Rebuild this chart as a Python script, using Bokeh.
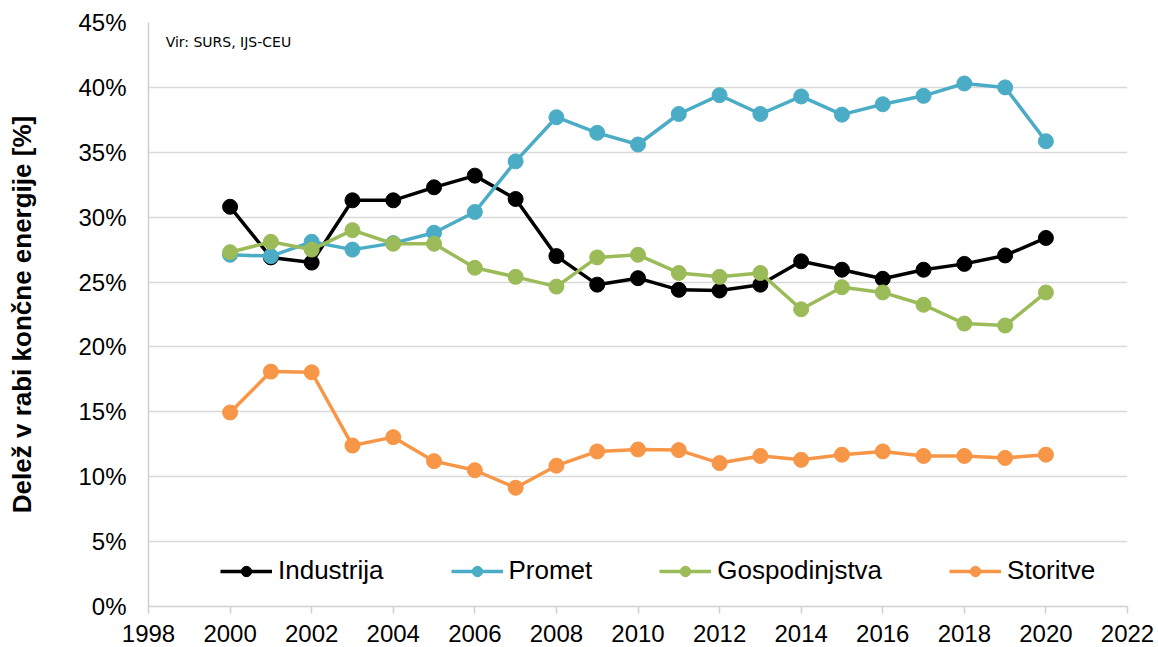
from bokeh.plotting import figure
from bokeh.models import Range1d, FixedTicker, PrintfTickFormatter, Legend, LegendItem, Label
from bokeh.embed import file_html
from bokeh.resources import INLINE

years = list(range(2000, 2021))
industrija = [30.8, 26.9, 26.5, 31.3, 31.3, 32.3, 33.2, 31.4, 27.0, 24.8, 25.3,
              24.4, 24.35, 24.8, 26.6, 25.95, 25.25, 25.95, 26.4, 27.05, 28.4]
promet = [27.1, 27.0, 28.1, 27.5, 28.0, 28.8, 30.4, 34.3, 37.7, 36.5, 35.6,
          37.95, 39.4, 37.95, 39.3, 37.9, 38.7, 39.35, 40.3, 40.0, 35.85]
gospodinjstva = [27.3, 28.1, 27.5, 29.0, 27.95, 27.95, 26.1, 25.4, 24.65, 26.9, 27.1,
                 25.7, 25.4, 25.7, 22.9, 24.6, 24.2, 23.25, 21.8, 21.65, 24.2]
storitve = [14.95, 18.1, 18.05, 12.4, 13.05, 11.2, 10.5, 9.15, 10.85, 11.95, 12.1,
            12.05, 11.05, 11.6, 11.3, 11.7, 11.95, 11.6, 11.6, 11.45, 11.7]

series_names = ["Industrija", "Promet", "Gospodinjstva", "Storitve"]
series_values = [industrija, promet, gospodinjstva, storitve]
colors = ["#000000", "#4BACC6", "#9BBB59", "#F79646"]

x_ticks = list(range(1998, 2023, 2))
y_ticks = list(range(0, 46, 5))

FONT = "Liberation Sans"

p = figure(width=1158, height=647, output_backend="svg", toolbar_location=None,
           x_range=Range1d(1998, 2022), y_range=Range1d(0, 45),
           min_border_left=148, min_border_right=31, min_border_top=22, min_border_bottom=41)
p.outline_line_color = None
p.background_fill_color = "white"
p.border_fill_color = "white"

# axes
p.xaxis.ticker = FixedTicker(ticks=x_ticks)
p.xaxis.major_label_text_font = FONT
p.xaxis.major_label_text_font_size = "24px"
p.xaxis.major_label_text_color = "#000000"
p.xaxis.axis_line_color = "#d0d0d0"
p.xaxis.axis_line_width = 1.5
p.xaxis.major_tick_line_color = "#d0d0d0"
p.xaxis.major_tick_line_width = 1.5
p.xaxis.major_tick_in = 0
p.xaxis.major_tick_out = 7
p.xaxis.minor_tick_line_color = None
p.xaxis.major_label_standoff = 11

p.yaxis.ticker = FixedTicker(ticks=y_ticks)
p.yaxis.formatter = PrintfTickFormatter(format="%d%%")
p.yaxis.major_label_text_font = FONT
p.yaxis.major_label_text_font_size = "24px"
p.yaxis.major_label_text_color = "#000000"
p.yaxis.axis_line_color = "#d0d0d0"
p.yaxis.axis_line_width = 1.5
p.yaxis.major_tick_line_color = None
p.yaxis.minor_tick_line_color = None
p.yaxis.major_tick_in = 0
p.yaxis.major_tick_out = 0
p.yaxis.major_label_standoff = 22
p.yaxis.axis_label = "Delež v rabi končne energije [%]"
p.yaxis.axis_label_text_font = FONT
p.yaxis.axis_label_text_font_size = "26px"
p.yaxis.axis_label_text_font_style = "bold"
p.yaxis.axis_label_text_color = "#000000"
p.yaxis.axis_label_standoff = 38

p.xgrid.grid_line_color = None
p.ygrid.ticker = FixedTicker(ticks=y_ticks)
p.ygrid.grid_line_color = "#d9d9d9"
p.ygrid.grid_line_width = 1.5

items = []
for name, vals, col in zip(series_names, series_values, colors):
    r1 = p.line(years, vals, line_color=col, line_width=3.5)
    r2 = p.scatter(years, vals, size=15, fill_color=col, line_color=col)
    items.append(LegendItem(label=name, renderers=[r1, r2]))

legend = Legend(items=items, orientation="horizontal", location=(72, 20),
                padding=0, margin=0, spacing=67, glyph_width=52, glyph_height=26,
                label_height=26, label_standoff=6,
                label_text_font=FONT, label_text_font_size="26px", label_text_color="#000000",
                border_line_color=None, background_fill_alpha=0)
p.add_layout(legend, "center")

src = Label(x=1998.42, y=43.5, text="Vir: SURS, IJS-CEU", text_font="DejaVu Sans",
            text_font_size="14px", text_color="#000000", text_baseline="middle")
p.add_layout(src)

open("out.html", "w").write(file_html(p, INLINE))
